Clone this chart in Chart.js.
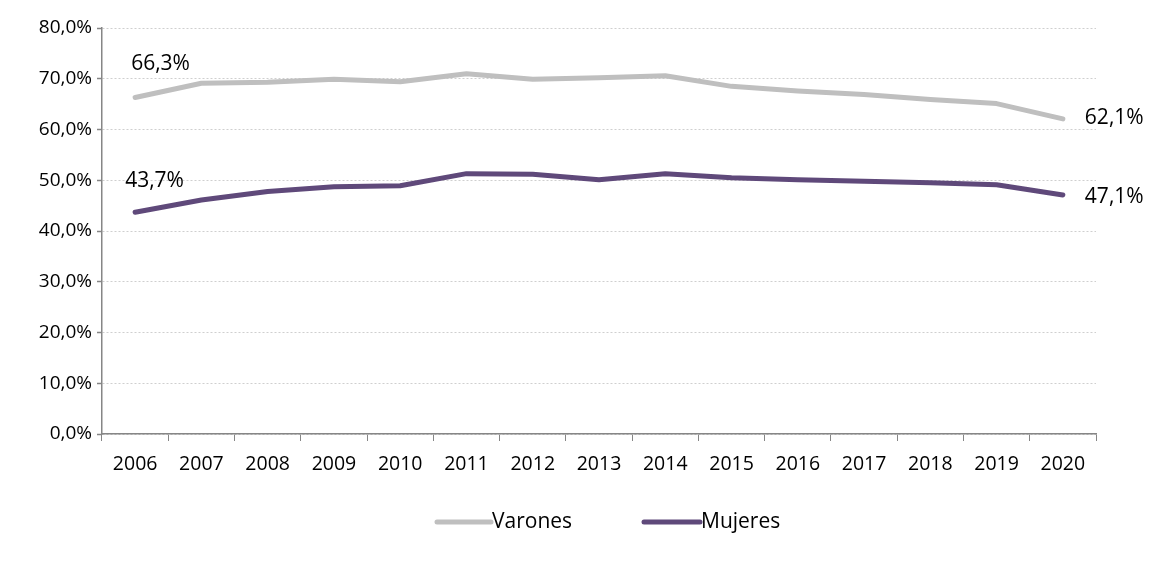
<!DOCTYPE html>
<html>
<head>
<meta charset="utf-8">
<script src="https://cdn.jsdelivr.net/npm/chart.js@4/dist/chart.umd.min.js"></script>
<style>
  html, body { margin: 0; padding: 0; background: #ffffff; }
  #wrap { width: 1152px; height: 561px; position: relative; }
</style>
</head>
<body>
<div id="wrap"><canvas id="c" width="1152" height="561"></canvas></div>
<script>
const years = ['2006','2007','2008','2009','2010','2011','2012','2013','2014','2015','2016','2017','2018','2019','2020'];
const varones = [66.3, 69.1, 69.3, 69.9, 69.4, 71.0, 69.9, 70.2, 70.6, 68.5, 67.6, 66.9, 65.9, 65.1, 62.1];
const mujeres = [43.7, 46.1, 47.8, 48.7, 48.9, 51.3, 51.2, 50.1, 51.3, 50.5, 50.1, 49.8, 49.5, 49.1, 47.1];
const seriesNames = ['Varones', 'Mujeres'];
const yTicks = { min: 0, max: 80, step: 10 };

const FONT = 'Open Sans';
const fmt = v => v.toFixed(1).replace('.', ',') + '%';

// labels: [datasetIndex, pointIndex, dx, dy, align]
const labelSpecs = [
  [0, 0, -4, -34, 'left'],
  [1, 0, -10, -31, 'left'],
  [0, 14, 22, -1, 'left'],
  [1, 14, 22, 2, 'left']
];

const labelPlugin = {
  id: 'pointLabels',
  afterDatasetsDraw(chart) {
    const ctx = chart.ctx;
    ctx.save();
    ctx.font = '21px "' + FONT + '"';
    ctx.fillStyle = '#000000';
    ctx.textBaseline = 'middle';
    labelSpecs.forEach(([di, pi, dx, dy, al]) => {
      const el = chart.getDatasetMeta(di).data[pi];
      const val = chart.data.datasets[di].data[pi];
      ctx.textAlign = al;
      ctx.fillText(fmt(val), el.x + dx, el.y + dy);
    });
    ctx.restore();
  }
};

const legendPlugin = {
  id: 'customLegend',
  afterDraw(chart) {
    const ctx = chart.ctx;
    const y = 522;
    const items = [
      { x: 437, w: 54, color: '#bfbfbf', text: seriesNames[0] },
      { x: 644, w: 56, color: '#5f497a', text: seriesNames[1] }
    ];
    ctx.save();
    ctx.font = '21px "' + FONT + '"';
    ctx.fillStyle = '#000000';
    ctx.textBaseline = 'middle';
    ctx.textAlign = 'left';
    items.forEach(it => {
      ctx.beginPath();
      ctx.strokeStyle = it.color;
      ctx.lineWidth = 5;
      ctx.lineCap = 'round';
      ctx.moveTo(it.x, y);
      ctx.lineTo(it.x + it.w, y);
      ctx.stroke();
      ctx.fillText(it.text, it.x + it.w + 1, y);
    });
    ctx.restore();
  }
};

new Chart(document.getElementById('c'), {
  type: 'line',
  data: {
    labels: years,
    datasets: [
      { label: seriesNames[0], data: varones, borderColor: '#bfbfbf', backgroundColor: '#bfbfbf',
        borderWidth: 5, pointRadius: 0, tension: 0, borderCapStyle: 'round', borderJoinStyle: 'round' },
      { label: seriesNames[1], data: mujeres, borderColor: '#5f497a', backgroundColor: '#5f497a',
        borderWidth: 5, pointRadius: 0, tension: 0, borderCapStyle: 'round', borderJoinStyle: 'round' }
    ]
  },
  options: {
    responsive: false,
    animation: false,
    events: [],
    layout: { padding: { left: 0, right: 56, top: 28, bottom: 0 } },
    plugins: { legend: { display: false }, tooltip: { enabled: false } },
    scales: {
      x: {
        offset: true,
        grid: { offset: true, drawOnChartArea: false, drawTicks: true, tickLength: 7, color: '#868686', tickColor: '#868686' },
        border: { display: true, color: '#868686', width: 1.5 },
        ticks: { color: '#000000', font: { family: FONT, size: 19.5 }, padding: 12, maxRotation: 0, autoSkip: false },
        afterFit(s) { s.height = 127; }
      },
      y: {
        min: yTicks.min, max: yTicks.max,
        grid: { color: '#cfcfcf', lineWidth: 1, drawTicks: true, tickLength: 5, tickColor: '#868686', tickBorderDash: [], tickWidth: 1.5 },
        border: { display: true, color: '#868686', width: 1.5, dash: [2, 2] },
        ticks: { stepSize: yTicks.step, color: '#000000', font: { family: FONT, size: 19 }, padding: 5,
                 callback: v => fmt(v) },
        afterFit(s) { s.width = 102; }
      }
    }
  },
  plugins: [labelPlugin, legendPlugin]
});
</script>
</body>
</html>
